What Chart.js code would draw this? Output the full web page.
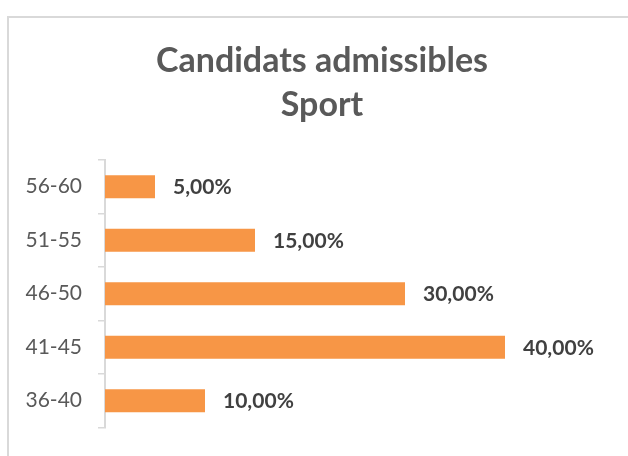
<!DOCTYPE html>
<html>
<head>
<meta charset="utf-8">
<script src="https://cdn.jsdelivr.net/npm/chart.js@4/dist/chart.umd.min.js"></script>
<style>
  body { margin: 0; background: #fff; width: 628px; height: 456px; overflow: hidden; position: relative; }
  #frame { position: absolute; left: 7px; top: 16px; width: 700px; height: 500px; border: 2px solid #d9d9d9; box-sizing: border-box; }
  #wrap { position: absolute; left: 0; top: 0; width: 628px; height: 456px; }
</style>
</head>
<body>
<div id="frame"></div>
<div id="wrap"><canvas id="myChart"></canvas></div>
<script>
// tranches d'age, de haut en bas
var categories = ['56-60', '51-55', '46-50', '41-45', '36-40'];
var percentages = [5, 15, 30, 40, 10];
var titleLines = ['Candidats admissibles', 'Sport'];

function formatPct(v) {
    return v.toFixed(2).replace('.', ',') + '%';
}

// étiquettes de valeur à droite des barres
var barLabels = {
    id: 'barLabels',
    afterDatasetsDraw: function (chart) {
        var ctx = chart.ctx;
        var meta = chart.getDatasetMeta(0);
        ctx.save();
        ctx.font = 'bold 21px Lato';
        ctx.fillStyle = '#404040';
        ctx.textAlign = 'left';
        ctx.textBaseline = 'middle';
        meta.data.forEach(function (bar, i) {
            ctx.fillText(formatPct(percentages[i]), bar.x + 18, bar.y + 1);
        });
        ctx.restore();
    }
};

var ctx = document.getElementById('myChart').getContext('2d');
var myBarChart = new Chart(ctx, {
    type: 'bar',
    data: {
        labels: categories,
        datasets: [{
            data: percentages,
            backgroundColor: '#F79646',
            borderWidth: 0,
            barPercentage: 0.43,
            categoryPercentage: 1
        }]
    },
    options: {
        indexAxis: 'y',
        responsive: true,
        maintainAspectRatio: false,
        animation: false,
        layout: { padding: { left: 16, right: 0, top: 0, bottom: 26 } },
        plugins: {
            legend: { display: false },
            tooltip: { enabled: false },
            title: {
                display: true,
                text: titleLines,
                color: '#595959',
                font: { family: 'Lato', size: 34, weight: 'bold', lineHeight: 1.294 },
                padding: { top: 39, bottom: 33 }
            }
        },
        scales: {
            x: {
                display: false,
                min: 0,
                max: 52.3
            },
            y: {
                afterFit: function (scale) { scale.width = 89; },
                grid: {
                    offset: true,
                    drawOnChartArea: false,
                    tickLength: 7,
                    color: '#d9d9d9',
                    lineWidth: 1.5
                },
                border: { color: '#d9d9d9', width: 2 },
                ticks: {
                    color: '#595959',
                    padding: 16,
                    font: { family: 'Lato', size: 21 }
                }
            }
        }
    },
    plugins: [barLabels]
});
</script>
</body>
</html>
